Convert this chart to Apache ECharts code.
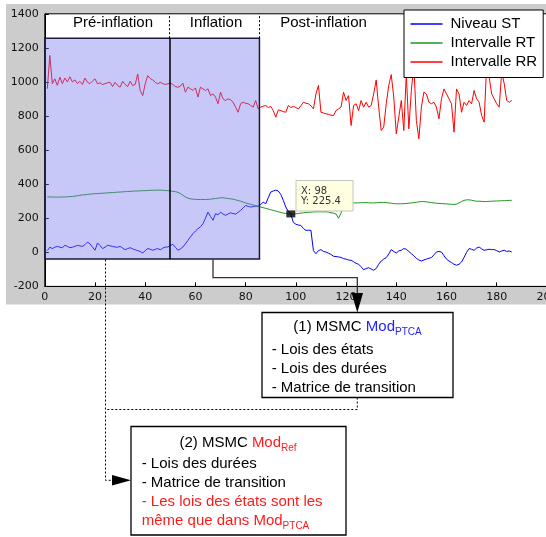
<!DOCTYPE html>
<html><head><meta charset="utf-8">
<script src="https://cdn.jsdelivr.net/npm/echarts@6/dist/echarts.min.js"></script>
<style>html,body{margin:0;padding:0;background:#fff}#c{width:546px;height:537px}</style>
</head><body><div id="c"></div>
<script>
const seriesNames = ['Niveau ST', 'Intervalle RT', 'Intervalle RR'];
const seriesColors = ['#0000ff', '#1e961e', '#ff0000'];

const niveauST = [
  10, 30, 22, 30, 35, 30, 27, 41, 35, 27,
  30, 35, 41, 38, 35, 45, 60, 50, 30, 12,
  55, 40, 22, 30, 41, 38, 35, 31, 30, 35,
  25, 15, 22, 27, 20, 15, 10, 5, -4, 10,
  22, 18, 12, 18, 22, 15, 25, 31, 31, 40,
  47, 30, 12, 20, 31, 50, 70, 90, 109, 125,
  139, 150, 168, 200, 236, 210, 188, 227, 220, 236,
  225, 217, 225, 232, 228, 224, 235, 246, 260, 275,
  270, 266, 268, 272, 270, 280, 295, 285, 320, 354,
  360, 365, 360, 340, 305, 266, 240, 225, 175, 165,
  160, 158, 140, 129, 130, 129, 10, -8, 10, 16,
  5, 2, -5, -12, -23, -25, -27, -30, -37, -40,
  -45, -47, -55, -65, -70, -85, -102, -95, -90, -98,
  -105, -95, -70, -51, -40, -31, -10, 16, 5, -4,
  8, 12, 22, 18, 5, -8, -20, -35, -45, -51,
  -45, -40, -35, -31, -15, 2, 5, 2, -20, -40,
  -51, -60, -70, -76, -70, -57, -30, 0, 22, 18,
  12, 25, 31, 20, 12, 15, 18, 16, 16, 10,
  2, 8, 12, 5, 8, 2
];

const intervalleRT = [
  325, 325, 325, 324, 324, 324, 325, 325, 326, 327,
  328, 330, 332, 335, 337, 338, 340, 342, 343, 344,
  345, 346, 347, 348, 349, 350, 351, 352, 353, 354,
  355, 356, 357, 358, 359, 360, 360, 361, 362, 362,
  363, 364, 364, 365, 365, 365, 364, 363, 362, 360,
  358, 356, 352, 345, 335, 325, 318, 314, 312, 311,
  310, 310, 310, 310, 311, 312, 314, 316, 318, 320,
  320, 318, 316, 314, 312, 308, 304, 300, 295, 290,
  286, 282, 278, 274, 270, 266, 262, 258, 254, 250,
  246, 242, 238, 234, 230, 228, 226, 225, 225, 226,
  228, 230, 232, 234, 235, 236, 237, 238, 238, 238,
  237, 238, 236, 232, 230, 225, 200, 230, 285, 287,
  288, 289, 290, 290, 290, 291, 292, 292, 291, 290,
  290, 291, 292, 293, 293, 292, 290, 288, 286, 285,
  285, 285, 286, 287, 288, 290, 292, 294, 296, 298,
  298, 296, 294, 292, 290, 288, 287, 286, 285, 284,
  283, 282, 281, 283, 290, 298, 305, 308, 308, 306,
  302, 300, 300, 299, 298, 298, 299, 300, 301, 301,
  302, 303, 303, 304, 305, 305
];

const intervalleRR = [
  960, 1155, 990, 1018, 980, 1028, 990, 1023, 1000, 1030,
  1000, 1012, 990, 1004, 985, 1023, 998, 990, 1005, 1018,
  989, 995, 985, 990, 995, 998, 973, 998, 980, 969,
  1004, 985, 973, 1004, 979, 985, 1047, 950, 920, 989,
  1037, 1020, 1012, 998, 989, 998, 990, 985, 989, 993,
  985, 973, 969, 975, 993, 940, 969, 960, 950, 965,
  911, 969, 959, 950, 960, 920, 930, 911, 872, 940,
  901, 891, 901, 895, 881, 852, 822, 872, 881, 875,
  872, 862, 852, 891, 842, 852, 858, 862, 850, 856,
  832, 793, 836, 832, 826, 822, 862, 850, 856, 850,
  842, 860, 881, 875, 872, 860, 842, 930, 979, 822,
  818, 813, 810, 805, 803, 832, 842, 852, 940, 891,
  920, 744, 862, 872, 832, 891, 852, 881, 852, 862,
  930, 1012, 852, 715, 735, 872, 979, 1043, 911, 696,
  793, 891, 715, 1047, 725, 950, 1100, 774, 666, 852,
  940, 930, 881, 872, 881, 852, 784, 901, 959, 930,
  901, 872, 705, 959, 930, 822, 881, 862, 891, 872,
  950, 901, 881, 803, 764, 1100, 1028, 930, 901, 872,
  852, 1060, 989, 891, 881, 891
];

const xTicks = { min: 0, max: 200, interval: 20 };
const yTicks = { min: -200, max: 1400, interval: 200 };
const phaseLabels = ['Pré-inflation', 'Inflation', 'Post-inflation'];
const shadedX = [0, 85.5];
const shadedY = [-39, 1257];
const splitX = 49.6;
const datatip = [98, 225.4];

const F = '"Liberation Sans", Arial, Helvetica, sans-serif';
const TF = '"DejaVu Sans", sans-serif';

function pairs(arr) { return arr.map((v, i) => [i + 1, v]); }

const chart = echarts.init(document.getElementById('c'), null, { renderer: 'canvas' });

const lineSeries = [niveauST, intervalleRT, intervalleRR].map((arr, k) => ({
  name: seriesNames[k],
  type: 'line',
  data: pairs(arr),
  showSymbol: false,
  symbol: 'none',
  lineStyle: { color: seriesColors[k], width: 1 },
  itemStyle: { color: seriesColors[k] },
  z: 2,
  animation: false
}));

const txt = (text, x, y, extra) => ({
  type: 'text', z: 102,
  style: Object.assign({ text, x, y, textAlign: 'left', textVerticalAlign: 'middle', font: '15px ' + F, fill: '#000' }, extra || {})
});

const richTitle = (x, y, prefix, color, sub) => ({
  type: 'text', z: 102,
  style: {
    x, y, textAlign: 'center', textVerticalAlign: 'middle',
    text: '{n|' + prefix + '}{m|Mod}{s|' + sub + '}',
    rich: {
      n: { font: '15px ' + F, fill: '#000', lineHeight: 22 },
      m: { font: '15px ' + F, fill: color, lineHeight: 22 },
      s: { font: '10px ' + F, fill: color, lineHeight: 10, verticalAlign: 'bottom' }
    }
  }
});

chart.setOption({
  animation: false,
  backgroundColor: '#ffffff',
  markArea: { z: 3 },
  grid: {
    left: 44.8, top: 13.8, width: 502.1, height: 272.6,
    show: true, backgroundColor: '#ffffff', borderColor: '#000', borderWidth: 1,
    containLabel: false, outerBoundsMode: 'none'
  },
  legend: {
    data: seriesNames,
    orient: 'vertical',
    left: 404, top: 10,
    padding: [6.5, 6, 8, 6.5],
    itemGap: 4,
    itemWidth: 32, itemHeight: 1.3,
    icon: 'rect',
    backgroundColor: '#ffffff',
    borderColor: '#000', borderWidth: 1, borderRadius: 0,
    textStyle: { fontFamily: F, fontSize: 15, color: '#000', lineHeight: 15, padding: [0, 0, 0, 3] },
    selectedMode: false
  },
  xAxis: {
    type: 'value', min: xTicks.min, max: xTicks.max, interval: xTicks.interval,
    axisLine: { show: true, onZero: false, lineStyle: { color: '#000', width: 1 } },
    axisTick: { show: true, inside: true, length: 4, lineStyle: { color: '#000' } },
    splitLine: { show: false },
    axisLabel: { fontFamily: TF, fontSize: 11, color: '#111', margin: 5, formatter: v => String(v) }
  },
  yAxis: {
    type: 'value', min: yTicks.min, max: yTicks.max, interval: yTicks.interval,
    axisLine: { show: true, onZero: false, lineStyle: { color: '#000', width: 1 } },
    axisTick: { show: true, inside: true, length: 4, lineStyle: { color: '#000' } },
    splitLine: { show: false },
    axisLabel: { fontFamily: TF, fontSize: 11, color: '#111', margin: 6, formatter: v => String(v) }
  },
  series: lineSeries.concat([{
    name: 'datatip',
    type: 'scatter',
    data: [datatip],
    symbol: 'rect',
    symbolSize: [9, 7],
    itemStyle: { color: '#000' },
    z: 10,
    silent: true,
    markArea: {
      z: 3,
      silent: true,
      itemStyle: { color: 'rgba(117,117,237,0.4)', borderColor: '#1a1a3c', borderWidth: 1.5 },
      data: [[{ xAxis: shadedX[0], yAxis: shadedY[1] }, { xAxis: shadedX[1], yAxis: shadedY[0] }]]
    },
    markLine: {
      silent: true, symbol: ['none', 'none'],
      label: { show: false },
      data: [
        [{ coord: [splitX, shadedY[0]], lineStyle: { color: '#000', width: 1.5, type: 'solid' } }, { coord: [splitX, shadedY[1]] }],
        [{ coord: [splitX, shadedY[1]], lineStyle: { color: '#000', width: 1, type: [2, 2] } }, { coord: [splitX, yTicks.max] }],
        [{ coord: [shadedX[1], shadedY[1]], lineStyle: { color: '#000', width: 1, type: [2, 2] } }, { coord: [shadedX[1], yTicks.max] }]
      ]
    }
  }]),
  graphic: {
    elements: [
      { type: 'rect', z: -100, shape: { x: 6, y: 4, width: 540, height: 300.5 }, style: { fill: '#cccccc' } },
      txt(phaseLabels[0], 113, 23, { textAlign: 'center' }),
      txt(phaseLabels[1], 216, 23, { textAlign: 'center' }),
      txt(phaseLabels[2], 323.5, 23, { textAlign: 'center' }),
      { type: 'rect', z: 100, shape: { x: 296, y: 180.5, width: 57, height: 30.5 }, style: { fill: '#ffffe1', stroke: '#c4c4c4', lineWidth: 1 } },
      txt('X: ' + datatip[0], 301, 191.5, { font: '10px ' + TF, fill: '#333' }),
      txt('Y: ' + datatip[1], 301, 201.5, { font: '10px ' + TF, fill: '#333' }),
      { type: 'polyline', z: 100, shape: { points: [[213, 259.5], [213, 277.7], [357.3, 277.7], [357.3, 294]] }, style: { stroke: '#333', lineWidth: 1.3, fill: null } },
      { type: 'polygon', z: 101, shape: { points: [[351.6, 293], [363, 293], [357.3, 312.5]] }, style: { fill: '#000' } },
      { type: 'polyline', z: 100, shape: { points: [[105.5, 259.5], [105.5, 480.3], [113, 480.3]] }, style: { stroke: '#000', lineWidth: 1, lineDash: [2, 2], fill: null } },
      { type: 'polyline', z: 100, shape: { points: [[357.3, 397.5], [357.3, 409.5], [105.5, 409.5]] }, style: { stroke: '#000', lineWidth: 1, lineDash: [2, 2], fill: null } },
      { type: 'polygon', z: 101, shape: { points: [[112, 475], [112, 485.6], [131, 480.3]] }, style: { fill: '#000' } },
      { type: 'rect', z: 100, shape: { x: 262, y: 312.5, width: 191, height: 85 }, style: { fill: '#fff', stroke: '#000', lineWidth: 1.3 } },
      { type: 'rect', z: 100, shape: { x: 131, y: 426.5, width: 215, height: 108.5 }, style: { fill: '#fff', stroke: '#000', lineWidth: 1.3 } },
      richTitle(357.5, 326.5, '(1) MSMC ', '#2222ff', 'PTCA'),
      txt('- Lois des états', 271.7, 350),
      txt('- Lois des durées', 271.7, 369),
      txt('- Matrice de transition', 271.7, 387.7),
      richTitle(238, 442.5, '(2) MSMC ', '#ff1a1a', 'Ref'),
      txt('- Lois des durées', 141.7, 464),
      txt('- Matrice de transition', 141.7, 482.7),
      txt('- Les lois des états sont les', 141.7, 501.7, { fill: '#ff1a1a' }),
      {
        type: 'text', z: 102,
        style: {
          x: 141.7, y: 520.7, textAlign: 'left', textVerticalAlign: 'middle',
          text: '{m|même que dans Mod}{s|PTCA}',
          rich: {
            m: { font: '15px ' + F, fill: '#ff1a1a', lineHeight: 22 },
            s: { font: '10px ' + F, fill: '#ff1a1a', lineHeight: 10, verticalAlign: 'bottom' }
          }
        }
      }
    ]
  }
});
</script>
</body></html>
